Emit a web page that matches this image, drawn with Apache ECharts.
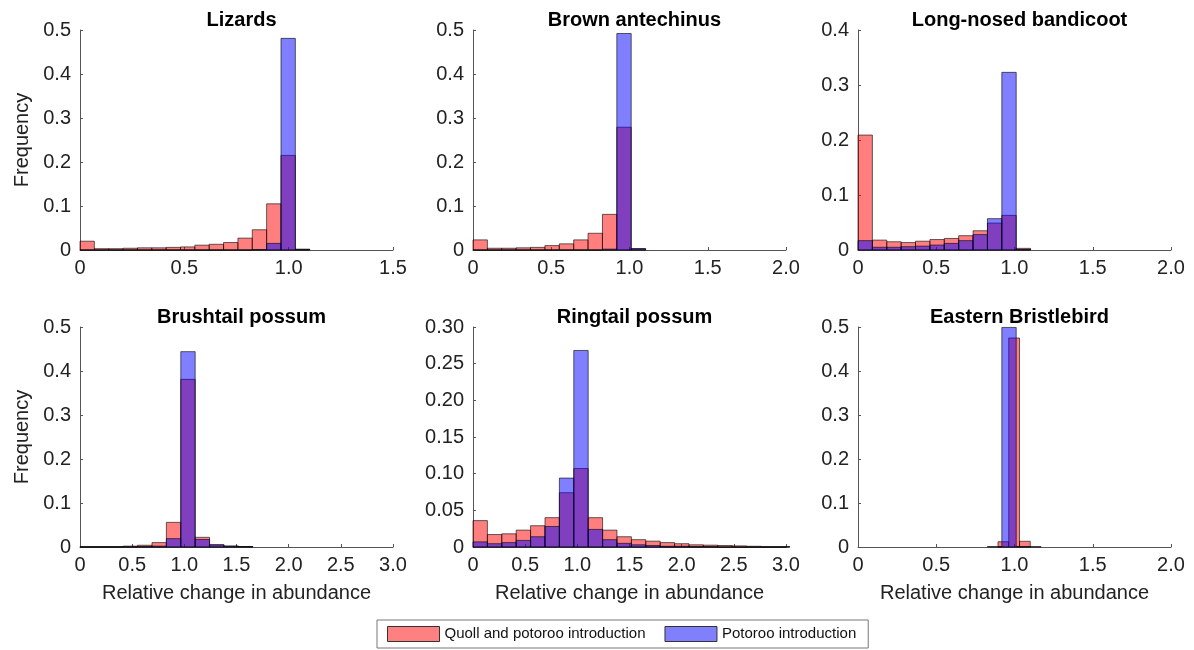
<!DOCTYPE html>
<html>
<head>
<meta charset="utf-8">
<script src="https://cdn.jsdelivr.net/npm/echarts@6/dist/echarts.min.js"></script>
<style>
  html, body { margin: 0; padding: 0; background: #fff; }
  #chart { width: 1194px; height: 650px; }
</style>
</head>
<body>
<div id="chart"></div>
<script>
// panel setup
const titles = ['Lizards', 'Brown antechinus', 'Long-nosed bandicoot', 'Brushtail possum', 'Ringtail possum', 'Eastern Bristlebird'];
const xMax = [1.5, 2, 2, 3, 3, 2];
const yMax = [0.5, 0.5, 0.4, 0.5, 0.3, 0.5];
const yStep = [0.1, 0.1, 0.1, 0.1, 0.05, 0.1];

// histogram bin widths (bins start at 0)
const quollBinWidth = [0.0688, 0.0919, 0.0919, 0.138, 0.138, 0.0688];
const potorooBinWidth = [0.0688, 0.0919, 0.0919, 0.138, 0.138, 0.0919];

// frequencies per bin, null = no bin
const quollLizards = [0.020, 0.003, 0.003, 0.004, 0.005, 0.005, 0.006, 0.007, 0.011, 0.013, 0.017, 0.027, 0.046, 0.105, 0.215, 0.002];
const potorooLizards = [0, 0, 0, 0, 0, 0, 0, 0, 0, 0, 0, 0, 0.001, 0.015, 0.481, 0.001];

const quollAntechinus = [0.023, 0.004, 0.004, 0.005, 0.006, 0.010, 0.014, 0.023, 0.038, 0.081, 0.279, 0.003];
const potorooAntechinus = [0, 0, 0, 0, 0, 0, 0, 0, 0, 0.002, 0.492, 0.003];

const quollBandicoot = [0.209, 0.018, 0.015, 0.0135, 0.016, 0.019, 0.021, 0.026, 0.035, 0.049, 0.063, 0.003];
const potorooBandicoot = [0.017, 0.005, 0.005, 0.006, 0.007, 0.009, 0.012, 0.017, 0.028, 0.057, 0.323, 0.001];

const quollBrushtail = [0.001, 0.001, 0.001, 0.002, 0.004, 0.010, 0.056, 0.381, 0.022, 0.005, 0.002, 0.001];
const potorooBrushtail = [0, 0, 0, 0.0005, 0.001, 0.002, 0.019, 0.444, 0.017, 0.005, 0.002, 0.001];

const quollRingtail = [0.036, 0.017, 0.018, 0.023, 0.029, 0.040, 0.074, 0.107, 0.040, 0.023, 0.014, 0.010, 0.008, 0.006, 0.0045, 0.003, 0.0025, 0.002, 0.0015, 0.001, 0.0005, 0.0005];
const potorooRingtail = [0.007, 0.0045, 0.006, 0.009, 0.014, 0.028, 0.094, 0.268, 0.024, 0.010, 0.005, 0.003, 0.002, 0.001, 0.001, 0.0005, 0.0005, 0, 0, 0, 0, 0];

const quollBristlebird = [null, null, null, null, null, null, null, null, null, null, null, null, null, 0.012, 0.475, 0.013, 0.001];
const potorooBristlebird = [null, null, null, null, null, null, null, null, null, 0.001, 0.499, 0.001];

const quollData = [quollLizards, quollAntechinus, quollBandicoot, quollBrushtail, quollRingtail, quollBristlebird];
const potorooData = [potorooLizards, potorooAntechinus, potorooBandicoot, potorooBrushtail, potorooRingtail, potorooBristlebird];

const seriesNames = ['Quoll and potoroo introduction', 'Potoroo introduction'];

const chart = echarts.init(document.getElementById('chart'));

const colLeft = [80, 473, 858];
const rowTop = [30, 327];
const gw = 313, gh = 220;
const axisColor = '#555';

function toBins(values, w) {
    const out = [];
    values.forEach(function (v, i) {
        if (v !== null) out.push([i * w, (i + 1) * w, v]);
    });
    return out;
}

function barRenderer(fill) {
    return function (params, api) {
        const a = api.coord([api.value(0), 0]);
        const b = api.coord([api.value(1), api.value(2)]);
        return {
            type: 'rect',
            shape: { x: a[0], y: b[1], width: b[0] - a[0], height: a[1] - b[1] },
            style: { fill: fill, stroke: 'rgba(0,0,0,0.6)', lineWidth: 1 }
        };
    };
}

function fmt(digits) {
    return function (v) { return v === 0 ? '0' : v.toFixed(digits); };
}

const grid = [], xAxis = [], yAxis = [], title = [], series = [];

titles.forEach(function (t, i) {
    const col = i % 3, row = Math.floor(i / 3);
    grid.push({ left: colLeft[col], top: rowTop[row], width: gw, height: gh });
    title.push({
        text: t,
        left: colLeft[col] + gw / 2,
        top: rowTop[row] - 25,
        textAlign: 'center',
        textStyle: { fontFamily: 'Liberation Sans', fontSize: 20, fontWeight: 'bold', color: '#000' }
    });
    xAxis.push({
        type: 'value', gridIndex: i, min: 0, max: xMax[i], interval: 0.5,
        name: row === 1 ? 'Relative change in abundance' : '',
        nameLocation: 'middle', nameGap: 36,
        nameTextStyle: { fontFamily: 'Liberation Sans', fontSize: 20, color: '#222' },
        axisLine: { lineStyle: { color: axisColor } },
        axisTick: { inside: true, length: 3, lineStyle: { color: axisColor } },
        axisLabel: { formatter: fmt(1), fontFamily: 'Liberation Sans', fontSize: 20, color: '#222', margin: 8 },
        splitLine: { show: false }
    });
    yAxis.push({
        type: 'value', gridIndex: i, min: 0, max: yMax[i], interval: yStep[i],
        name: col === 0 ? 'Frequency' : '',
        nameLocation: 'middle', nameGap: 48,
        nameTextStyle: { fontFamily: 'Liberation Sans', fontSize: 20, color: '#222' },
        axisLine: { show: true, lineStyle: { color: axisColor } },
        axisTick: { show: true, inside: true, length: 3, lineStyle: { color: axisColor } },
        axisLabel: { formatter: fmt(yStep[i] < 0.1 ? 2 : 1), fontFamily: 'Liberation Sans', fontSize: 20, color: '#222', margin: 9 },
        splitLine: { show: false }
    });
    series.push({
        name: seriesNames[0], type: 'custom', xAxisIndex: i, yAxisIndex: i,
        itemStyle: { color: 'rgba(255,0,0,0.5)' },
        renderItem: barRenderer('rgba(255,0,0,0.5)'),
        encode: { x: [0, 1], y: 2 },
        data: toBins(quollData[i], quollBinWidth[i])
    });
    series.push({
        name: seriesNames[1], type: 'custom', xAxisIndex: i, yAxisIndex: i,
        itemStyle: { color: 'rgba(0,0,255,0.5)' },
        renderItem: barRenderer('rgba(0,0,255,0.5)'),
        encode: { x: [0, 1], y: 2 },
        data: toBins(potorooData[i], potorooBinWidth[i])
    });
});

chart.setOption({
    animation: false,
    title: title,
    grid: grid,
    xAxis: xAxis,
    yAxis: yAxis,
    legend: {
        left: 377, top: 620,
        selectedMode: false,
        padding: [6, 12, 6, 10],
        itemGap: 19,
        itemWidth: 52, itemHeight: 15,
        borderColor: '#777', borderWidth: 1,
        textStyle: { fontFamily: 'Liberation Sans', fontSize: 15, color: '#111' },
        data: [
            { name: seriesNames[0], icon: 'rect', itemStyle: { color: '#ff8080', borderColor: '#333', borderWidth: 1 } },
            { name: seriesNames[1], icon: 'rect', itemStyle: { color: '#8080ff', borderColor: '#333', borderWidth: 1 } }
        ]
    },
    series: series
});
</script>
</body>
</html>
